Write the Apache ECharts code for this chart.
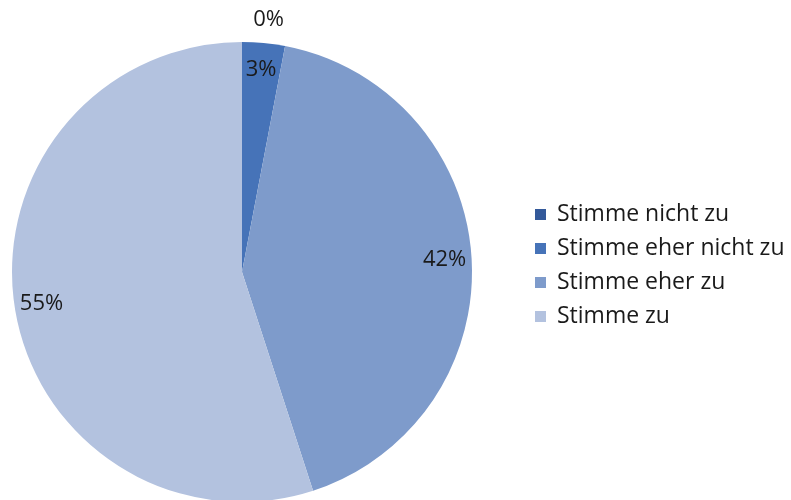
<!DOCTYPE html>
<html>
<head>
<meta charset="utf-8">
<script src="https://cdn.jsdelivr.net/npm/echarts@6/dist/echarts.min.js"></script>
<style>
  html, body { margin: 0; padding: 0; background: #fff; }
  #chart { width: 791px; height: 500px; }
</style>
</head>
<body>
<div id="chart"></div>
<script>
// answer categories and share of answers (percent)
const categories = ['Stimme nicht zu', 'Stimme eher nicht zu', 'Stimme eher zu', 'Stimme zu'];
const values = [0, 3, 42, 55];

const colors = ['#33599A', '#4673B8', '#7E9BCB', '#B3C2DF'];
const font = '"Open Sans", "Liberation Sans", sans-serif';

const pieData = categories.map((name, i) => ({ name: name, value: values[i] }));

// labels live on a transparent ring so "inside" puts them near the rim, like Excel
const labelData = categories.map((name, i) => {
    const item = { name: name, value: values[i] };
    if (values[i] === 0) {
        item.label = { position: 'outside' };
    }
    return item;
});

const myChart = echarts.init(document.getElementById('chart'));

myChart.setOption({
    animation: false,
    color: colors,
    legend: {
        orient: 'vertical',
        left: 530,
        top: 198,
        itemWidth: 11,
        itemHeight: 11,
        itemGap: 11,
        icon: 'rect',
        selectedMode: false,
        data: categories,
        textStyle: {
            fontFamily: font,
            fontSize: 23,
            color: '#1a1a1a',
            padding: [0, 0, 0, 6]
        }
    },
    series: [{
        type: 'pie',
        center: [242, 272],
        radius: 230,
        startAngle: 90,
        clockwise: true,
        avoidLabelOverlap: false,
        silent: true,
        label: { show: false },
        labelLine: { show: false },
        itemStyle: { borderWidth: 0 },
        data: pieData
    }, {
        type: 'pie',
        center: [242, 272],
        radius: [170, 230],
        startAngle: 90,
        clockwise: true,
        avoidLabelOverlap: false,
        silent: true,
        itemStyle: { color: 'rgba(0,0,0,0)', borderWidth: 0 },
        label: {
            show: true,
            position: 'inside',
            formatter: '{d}%',
            fontFamily: font,
            fontSize: 22,
            color: '#1a1a1a'
        },
        labelLine: { show: false, length: 22, length2: 6 },
        // nudge the outside "0%" label to the right of the 12 o'clock line
        labelLayout: function (p) {
            return values[p.dataIndex] === 0 ? { dx: 53 } : {};
        },
        percentPrecision: 0,
        data: labelData
    }]
});
</script>
</body>
</html>
